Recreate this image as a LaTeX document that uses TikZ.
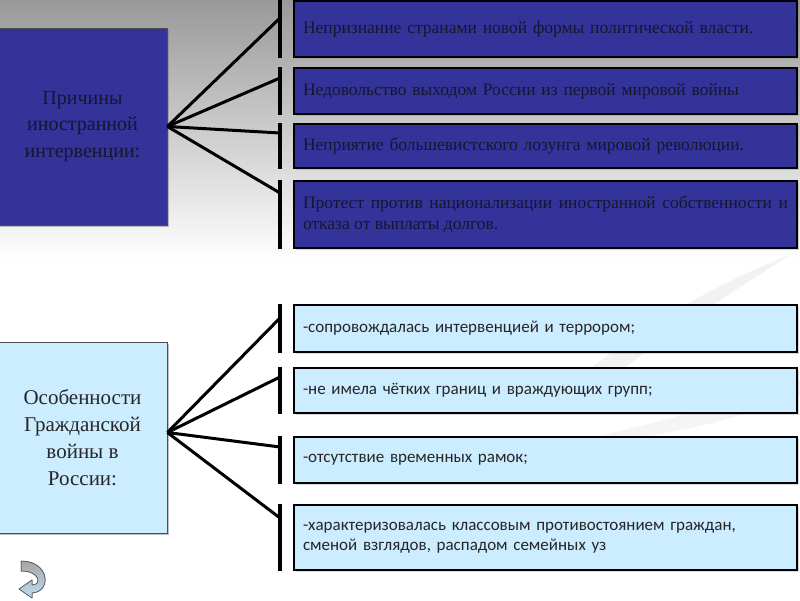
\documentclass[tikz,border=0pt]{standalone}
\usepackage{fontspec}
\setmainfont{Liberation Serif}
\newfontfamily\featfont{Carlito}
\usetikzlibrary{shadows}
\definecolor{navy}{RGB}{51,51,153}
\definecolor{pale}{RGB}{204,236,255}
\definecolor{ink}{RGB}{22,22,48}
\definecolor{iconblue}{RGB}{190,220,240}

\begin{document}
\begin{tikzpicture}[x=1pt, y=-1pt,
    head/.style={draw=gray!60!black, line width=0.8pt, minimum width=169, align=center,
        drop shadow={shadow xshift=1.5pt, shadow yshift=-1.5pt, opacity=0.5}},
    item/.style={draw=black, line width=2.5pt, minimum width=503, text width=485, inner xsep=9, align=left,
        drop shadow={shadow xshift=2pt, shadow yshift=-2pt, opacity=0.3}},
    conn/.style={line width=3pt},
    bar/.style={line width=3.5pt}]
    % background
    \useasboundingbox (0,0) rectangle (800,600);
    \fill[white] (0,0) rectangle (800,600);
    \shade[top color=black!40, bottom color=white] (0,0) rectangle (800,260);
    \fill[gray!10] (540,410) .. controls (620,340) and (700,290) .. (790,255)
        .. controls (710,305) and (640,355) .. (565,412) -- cycle;
    \fill[gray!8] (560,445) .. controls (650,425) and (740,400) .. (800,380)
        -- (800,396) .. controls (740,418) and (660,440) .. (560,445) -- cycle;

    % causes of the intervention
    \node[head, fill=navy, text=ink, minimum height=197, font=\fontsize{20}{26.5}\selectfont]
        (cause) at (82.5,126.5) {Причины\\иностранной\\интервенции:};
    \begin{scope}[every node/.style={item, fill=navy, text=ink, font=\fontsize{17.5}{21}\selectfont}]
        \node[minimum height=56] (c1) at (545.5,29) {Непризнание  странами новой формы политической власти.};
        \node[minimum height=46] (c2) at (545.5,91) {Недовольство выходом России из первой мировой войны};
        \node[minimum height=44] (c3) at (545.5,146) {Неприятие большевистского лозунга мировой революции.};
        \node[minimum height=67, align=justify] (c4) at (545.5,214.5) {Протест против  национализации иностранной собственности и\linebreak отказа от выплаты долгов.};
    \end{scope}

    % features of the civil war
    \node[head, fill=pale, text=black!85, minimum height=191, font=\fontsize{21}{27}\selectfont]
        (feat) at (82.5,437.5) {Особенности\\Гражданской\\войны в\\России:};
    \begin{scope}[every node/.style={item, fill=pale, text=black!85, font=\featfont\fontsize{17}{20}\selectfont}]
        \node[minimum height=47] (f1) at (545.5,328.5) {-сопровождалась интервенцией  и террором;};
        \node[minimum height=45] (f2) at (545.5,390.5) {-не имела чётких границ и враждующих групп;};
        \node[minimum height=46] (f3) at (545.5,460) {-отсутствие временных рамок;};
        \node[minimum height=65] (f4) at (545.5,537.5) {-характеризовалась классовым противостоянием  граждан, сменой взглядов, распадом семейных уз};
    \end{scope}

    % brackets and connectors
    \foreach \n in {c1,c2,c3,c4,f1,f2,f3,f4}
        \draw[bar] ([xshift=-13pt]\n.north west) -- ([xshift=-13pt]\n.south west);
    \coordinate (t1) at (280,18);
    \coordinate (t2) at (280,78);
    \coordinate (t3) at (280,133);
    \coordinate (t4) at (280,193);
    \coordinate (b1) at (280,318);
    \coordinate (b2) at (280,377);
    \coordinate (b3) at (280,447);
    \coordinate (b4) at (280,518);
    \foreach \t in {t1,t2,t3,t4}
        \draw[conn] (cause.east) -- (\t);
    \foreach \b in {b1,b2,b3,b4}
        \draw[conn] ([yshift=5pt]feat.east) -- (\b);

    % return icon
    \shade[top color=gray!70, bottom color=iconblue, draw=gray!70!black, line width=0.5pt]
        (21,561) .. controls (50,561) and (52,592) .. (32,593) -- (32,598) -- (19,589)
        -- (32,580) -- (32,585) .. controls (42,585) and (40,571) .. (21,571) -- cycle;
    \draw[gray!70!black, line width=0.5pt]
        (21,561) .. controls (50,561) and (52,592) .. (32,593) -- (32,598) -- (19,589)
        -- (32,580) -- (32,585) .. controls (42,585) and (40,571) .. (21,571) -- cycle;
\end{tikzpicture}
\end{document}
